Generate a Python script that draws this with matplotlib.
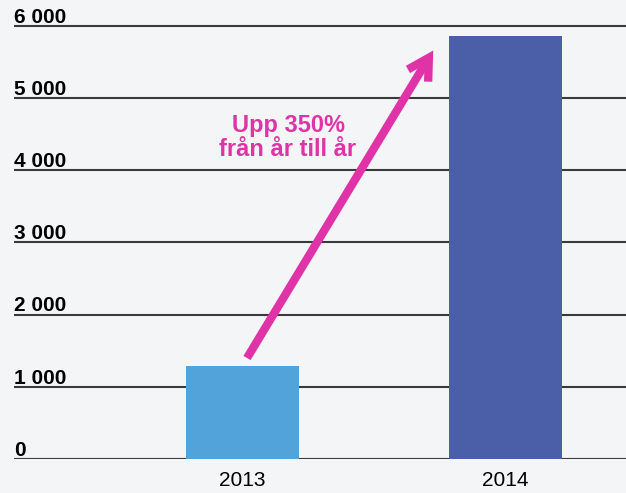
import matplotlib.pyplot as plt

years = ['2013', '2014']
values = [1290, 5860]
bar_colors = ['#52a3da', '#4a5fa8']
yticks = [0, 1000, 2000, 3000, 4000, 5000, 6000]
ytick_labels = ['0', '1 000', '2 000', '3 000', '4 000', '5 000', '6 000']
note = 'Upp 350%\nfrån år till år'

plt.rcParams['font.family'] = ['Liberation Sans', 'DejaVu Sans']
bg = '#f4f5f7'
magenta = '#e033a8'

fig = plt.figure(figsize=(6.26, 4.93), dpi=100, facecolor=bg)
ax = fig.add_axes([14 / 626, 34 / 493, 612 / 626, 459 / 493], facecolor=bg)

x = range(len(years))
ax.bar(x, values, width=0.43, color=bar_colors, zorder=3)

ax.set_xlim(-0.869, 1.458)
ax.set_ylim(0, 6360)

for t, lab in zip(yticks, ytick_labels):
    ax.axhline(t, color='#3a3a3a', lw=1.5, zorder=2)
    ax.annotate(lab, xy=(0, t), xycoords=('axes fraction', 'data'),
                xytext=(0, -0.5), textcoords='offset points',
                ha='left', va='bottom', fontsize=15, fontweight='bold')

ax.set_xticks(list(x))
ax.set_xticklabels(years, fontsize=15)
ax.tick_params(axis='x', length=0, pad=9)
ax.set_yticks([])
for s in ax.spines.values():
    s.set_visible(False)

# pil fran 2013 till 2014
ax.annotate('', xy=(0.725, 5660), xytext=(0.017, 1400),
            arrowprops=dict(arrowstyle='->,head_length=1.5,head_width=0.85',
                            color=magenta, lw=6, shrinkA=0, shrinkB=0,
                            capstyle='butt', joinstyle='miter'),
            zorder=4)

ax.text(0.173, 4450, note, ha='center', va='center', color=magenta,
        fontsize=17, fontweight='bold', linespacing=1.05, zorder=5)

fig.savefig('out.png', dpi=100, facecolor=bg)
